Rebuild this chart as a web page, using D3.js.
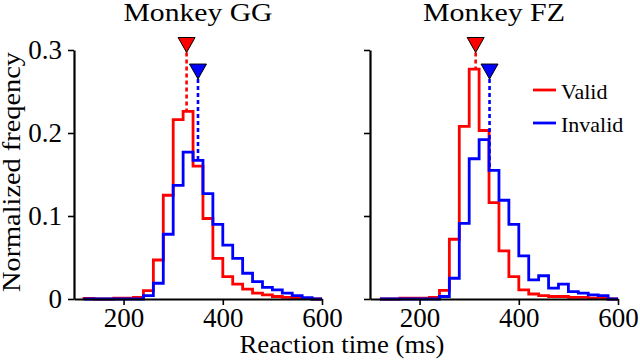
<!DOCTYPE html>
<html>
<head>
<meta charset="utf-8">
<script src="https://cdn.jsdelivr.net/npm/d3@7"></script>
<style>
  body { margin: 0; background: #fff; }
</style>
</head>
<body>
<svg id="chart" width="640" height="362"></svg>
<script>
// bin left edges (ms), 20 ms wide
var binStarts = [120, 140, 160, 180, 200, 220, 240, 260, 280, 300, 320, 340,
                 360, 380, 400, 420, 440, 460, 480, 500, 520, 540, 560, 580];

var ggValid   = [0.0007, 0, 0, 0.001, 0.001, 0.002, 0.010, 0.047, 0.125, 0.216, 0.226, 0.160,
                 0.097, 0.049, 0.027, 0.018, 0.012, 0.007, 0.005, 0.003, 0.002, 0.001, 0.0005, 0];
var ggInvalid = [0, 0, 0, 0, 0, 0, 0.004, 0.019, 0.078, 0.137, 0.177, 0.167,
                 0.127, 0.090, 0.065, 0.049, 0.031, 0.021, 0.014, 0.011, 0.007, 0.004, 0.0015, 0];
var fzValid   = [0, 0, 0.001, 0.001, 0.001, 0.002, 0.0105, 0.072, 0.208, 0.277, 0.203, 0.116,
                 0.058, 0.027, 0.011, 0.006, 0.004, 0.003, 0.003, 0.002, 0.002, 0.001, 0.001, 0];
var fzInvalid = [0, 0, 0, 0, 0, 0, 0.003, 0.025, 0.091, 0.169, 0.192, 0.155,
                 0.119, 0.090, 0.052, 0.023, 0.028, 0.013, 0.018, 0.009, 0.007, 0.005, 0.004, 0];

// medians [valid, invalid] and marker tip heights
var ggMedian = [327, 350];
var fzMedian = [313, 341];
var markerTip = [0.297, 0.265];

var xTicks = [200, 400, 600];
var yTicks = [0, 0.1, 0.2, 0.3];
var yTickLabels = ["0", "0.1", "0.2", "0.3"];
var titles = ["Monkey GG", "Monkey FZ"];
var seriesNames = ["Valid", "Invalid"];
var colors = ["#ff0000", "#0000ff"];

var serif = "Liberation Serif";

var svg = d3.select("#chart");

var y = d3.scaleLinear().domain([0, 0.3]).range([299, 50]);

var panels = [
  {title: titles[0], range: [74, 322], series: [ggValid, ggInvalid], median: ggMedian, labels: true, tw: 149},
  {title: titles[1], range: [370, 618], series: [fzValid, fzInvalid], median: fzMedian, labels: false, tw: 142}
];

// height of histogram at a given x
function histAt(vals, v) {
  var i = d3.bisectRight(binStarts, v) - 1;
  return i >= 0 && i < vals.length ? vals[i] : 0;
}

panels.forEach(function(p) {
  var x = d3.scaleLinear().domain([100, 600]).range(p.range);
  var g = svg.append("g");

  var line = d3.line()
    .x(d => x(d[0]))
    .y(d => y(d[1]))
    .curve(d3.curveStepAfter);

  p.series.forEach(function(vals, si) {
    var pts = [[binStarts[0], 0]];
    vals.forEach((v, i) => pts.push([binStarts[i], v]));
    pts.push([binStarts[binStarts.length - 1] + 20, 0]);
    g.append("path")
      .attr("d", line(pts))
      .attr("fill", "none")
      .attr("stroke", colors[si])
      .attr("stroke-width", 2.8);
  });

  // median dashed lines + triangles
  p.median.forEach(function(m, si) {
    var top = histAt(p.series[si], m);
    g.append("line")
      .attr("x1", x(m)).attr("x2", x(m))
      .attr("y1", y(markerTip[si])).attr("y2", y(top))
      .attr("stroke", colors[si])
      .attr("stroke-width", 2.6)
      .attr("stroke-dasharray", "4,3");
    var tx = x(m), ty = y(markerTip[si]);
    g.append("path")
      .attr("d", "M" + (tx - 8.5) + "," + (ty - 15) + "L" + (tx + 8.5) + "," + (ty - 15) + "L" + tx + "," + ty + "Z")
      .attr("fill", colors[si])
      .attr("stroke", "#000")
      .attr("stroke-width", 1);
  });

  // axes
  var xAxis = g.append("g")
    .attr("transform", "translate(0,299)")
    .call(d3.axisBottom(x).tickValues(xTicks).tickSize(6).tickSizeOuter(0).tickPadding(4));
  var yAxis = g.append("g")
    .attr("transform", "translate(" + p.range[0] + ",0)")
    .call(d3.axisLeft(y).tickValues(yTicks).tickSize(6).tickSizeOuter(0).tickPadding(6)
      .tickFormat((d, i) => p.labels ? yTickLabels[i] : ""));

  [xAxis, yAxis].forEach(function(a) {
    a.attr("font-family", serif).attr("font-size", 27);
    a.select(".domain").attr("stroke", "#000").attr("stroke-width", 2.2);
    a.selectAll(".tick line").attr("stroke", "#000").attr("stroke-width", 1.6);
    a.selectAll(".tick text").attr("fill", "#000");
  });
  xAxis.selectAll(".tick text").attr("dy", "0.68em");
  yAxis.selectAll(".tick text").attr("dy", "0.33em");

  svg.append("text")
    .attr("x", (p.range[0] + p.range[1]) / 2)
    .attr("y", 21)
    .attr("text-anchor", "middle")
    .attr("font-family", serif)
    .attr("font-size", 26)
    .attr("textLength", p.tw)
    .attr("lengthAdjust", "spacingAndGlyphs")
    .text(p.title);
});

// legend in right panel
seriesNames.forEach(function(name, i) {
  var ly = [90, 123][i];
  svg.append("line")
    .attr("x1", 533).attr("x2", 556)
    .attr("y1", ly).attr("y2", ly)
    .attr("stroke", colors[i])
    .attr("stroke-width", 2.8);
  svg.append("text")
    .attr("x", 561)
    .attr("y", ly + 9)
    .attr("font-family", serif)
    .attr("font-size", 22)
    .text(name);
});

svg.append("text")
  .attr("x", 342)
  .attr("y", 353)
  .attr("text-anchor", "middle")
  .attr("font-family", serif)
  .attr("font-size", 26)
  .attr("textLength", 205)
  .attr("lengthAdjust", "spacingAndGlyphs")
  .text("Reaction time (ms)");

svg.append("text")
  .attr("transform", "translate(20,172) rotate(-90)")
  .attr("text-anchor", "middle")
  .attr("font-family", serif)
  .attr("font-size", 25)
  .attr("textLength", 240)
  .attr("lengthAdjust", "spacingAndGlyphs")
  .text("Normalized freqency");
</script>
</body>
</html>
